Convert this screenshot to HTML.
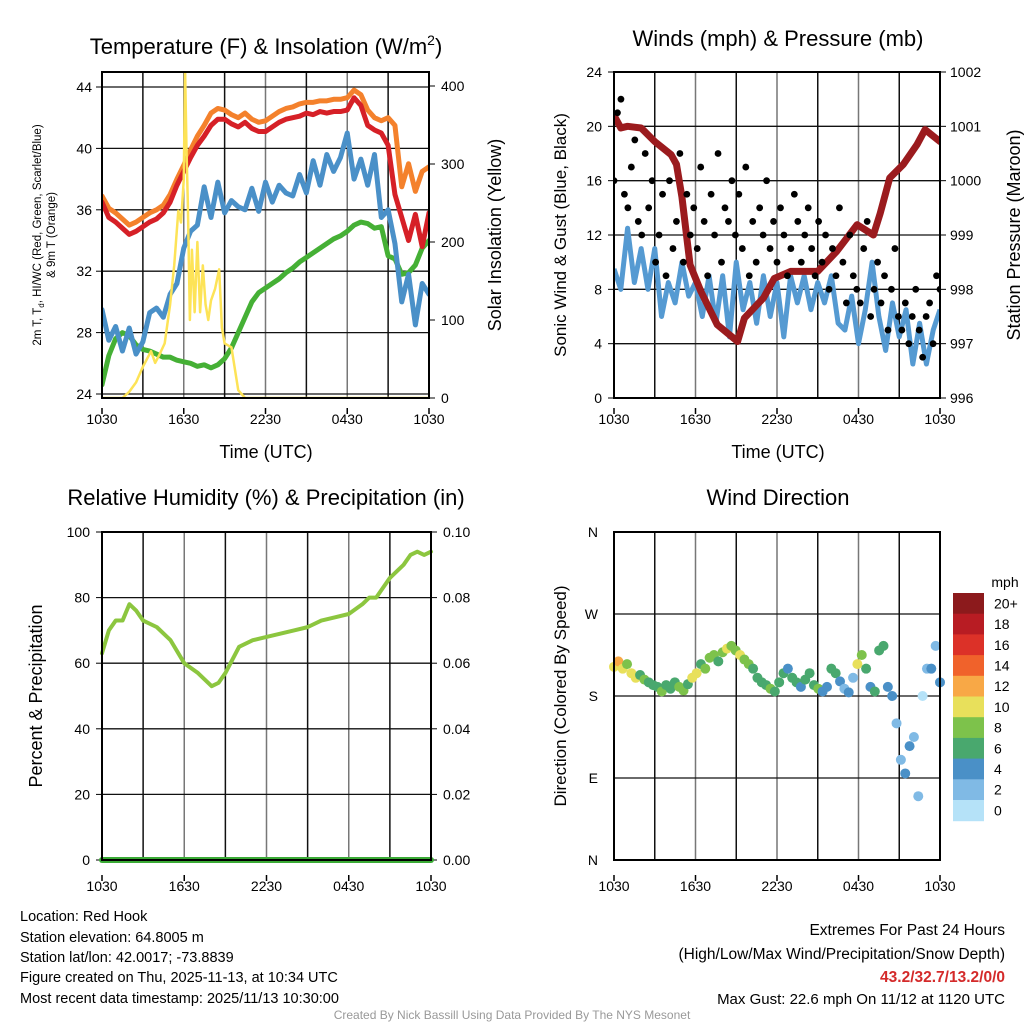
<!DOCTYPE html>
<html><head><meta charset="utf-8"><style>
body{margin:0;background:#fff}
svg{display:block;font-family:"Liberation Sans",sans-serif}
</style></head><body>
<svg id="s" width="1024" height="1024" viewBox="0 0 1024 1024">
<rect width="1024" height="1024" fill="#fff"/>
<g id="g"></g>
<text x="266" y="54" text-anchor="middle" font-size="22">Temperature (F) &amp; Insolation (W/m<tspan dy="-9" font-size="14">2</tspan><tspan dy="9">)</tspan></text>
<text x="778" y="46" text-anchor="middle" font-size="22">Winds (mph) &amp; Pressure (mb)</text>
<text x="266" y="505" text-anchor="middle" font-size="22">Relative Humidity (%) &amp; Precipitation (in)</text>
<text x="778" y="505" text-anchor="middle" font-size="22">Wind Direction</text>
<text x="266" y="458" text-anchor="middle" font-size="18">Time (UTC)</text>
<text x="778" y="458" text-anchor="middle" font-size="18">Time (UTC)</text>
<text transform="translate(41,235) rotate(-90)" text-anchor="middle" font-size="11.5">2m T, T<tspan dy="3" font-size="8">d</tspan><tspan dy="-3">, HI/WC (Red, Green, Scarlet/Blue)</tspan></text>
<text transform="translate(55,235) rotate(-90)" text-anchor="middle" font-size="11.5">&amp; 9m T (Orange)</text>
<text transform="translate(501,235) rotate(-90)" text-anchor="middle" font-size="18">Solar Insolation (Yellow)</text>
<text transform="translate(566,235) rotate(-90)" text-anchor="middle" font-size="17">Sonic Wind &amp; Gust (Blue, Black)</text>
<text transform="translate(1020,235) rotate(-90)" text-anchor="middle" font-size="18">Station Pressure (Maroon)</text>
<text transform="translate(42,696) rotate(-90)" text-anchor="middle" font-size="18">Percent &amp; Precipitation</text>
<text transform="translate(566,696) rotate(-90)" text-anchor="middle" font-size="17">Direction (Colored By Speed)</text>
<text x="1005" y="587" text-anchor="middle" font-size="14">mph</text>
<g font-size="14.5">
<text x="20" y="921">Location: Red Hook</text>
<text x="20" y="942">Station elevation: 64.8005 m</text>
<text x="20" y="962">Station lat/lon: 42.0017; -73.8839</text>
<text x="20" y="982">Figure created on Thu, 2025-11-13, at 10:34 UTC</text>
<text x="20" y="1003">Most recent data timestamp: 2025/11/13 10:30:00</text>
</g>
<g font-size="15.5" text-anchor="end">
<text x="1005" y="935">Extremes For Past 24 Hours</text>
<text x="1005" y="959">(High/Low/Max Wind/Precipitation/Snow Depth)</text>
<text x="1005" y="982" fill="#d42a2a" font-weight="bold">43.2/32.7/13.2/0/0</text>
<text x="1005" y="1004" font-size="15">Max Gust: 22.6 mph On 11/12 at 1120 UTC</text>
</g>
<text x="512" y="1019" text-anchor="middle" font-size="12" fill="#999">Created By Nick Bassill Using Data Provided By The NYS Mesonet</text>
</svg>
<script>
// ---- data ----
const xTickLabels = ["1030","1630","2230","0430","1030"];
const t2m = [36.5,35.5,35.2,34.8,34.4,34.6,34.9,35.2,35.4,35.8,36.5,37.6,38.5,39.4,40.2,40.8,41.5,41.9,41.9,41.6,41.4,41.7,41.3,41.1,41.1,41.4,41.7,41.9,42.0,42.1,42.3,42.2,42.4,42.3,42.4,42.4,42.5,43.3,42.8,41.5,41.2,41.0,40.2,37.0,35.5,34.0,35.7,33.6,35.8];
const t9m = [36.9,36.1,35.8,35.4,35.0,35.2,35.5,35.8,36.0,36.3,37.0,38.0,38.9,39.9,40.8,41.5,42.3,42.6,42.5,42.2,42.0,42.3,41.9,41.7,41.8,42.1,42.4,42.6,42.7,42.9,43.0,43.0,43.1,43.1,43.2,43.2,43.3,43.8,43.5,42.5,42.0,41.8,42.0,41.5,37.5,39.0,37.2,38.5,38.8];
const tdew = [29.5,27.5,28.4,26.8,28.3,26.6,27.4,29.3,29.6,29.0,30.5,31.2,33.5,34.6,35.0,37.5,35.5,37.8,35.8,36.6,36.2,36.0,37.4,35.9,37.8,36.5,37.6,37.1,36.9,38.3,37.1,39.2,37.6,39.6,38.5,39.4,41.0,38.0,39.3,37.6,39.6,35.5,36.0,33.8,30.0,31.8,28.5,31.2,30.5];
const thiwc = [24.6,26.5,27.6,28.0,27.8,27.2,26.9,26.8,26.6,26.4,26.4,26.2,26.1,26.0,25.8,25.9,25.7,25.9,26.3,27.0,28.0,29.0,30.0,30.6,30.9,31.2,31.5,31.9,32.2,32.6,32.9,33.2,33.5,33.8,34.1,34.3,34.6,35.0,35.2,35.1,34.8,34.9,33.0,32.8,31.8,31.9,32.4,33.5,34.0];
const solarHours = [0,1.5,2,2.5,3,3.3,3.6,3.9,4.2,4.6,5,5.3,5.6,5.8,6.0,6.1,6.2,6.3,6.45,6.6,6.8,7.0,7.2,7.4,7.6,7.8,8.0,8.3,8.6,8.8,9.0,9.5,10,10.5,11,24];
const solarVals = [0,0,8,20,40,50,60,45,55,70,120,170,240,225,280,420,320,250,100,190,110,200,110,170,120,100,125,140,165,90,70,65,10,0,0,0];
const windSpeed = [9.5,8.0,12.5,8.5,11.0,8.0,11.0,6.0,8.5,7.0,10.0,7.5,8.5,6.0,9.0,5.5,9.0,4.5,10.0,6.5,8.5,5.5,9.0,6.0,8.5,4.5,9.0,7.0,9.0,6.5,8.5,7.0,9.0,5.5,5.0,7.5,4.0,6.5,10.0,6.0,3.5,7.0,4.5,6.5,2.5,5.5,2.5,5.0,6.5];
const gusts = [16,21,22,15,14,17,19,13,12,18,14,16,10, 12,15,9,16,11,13,18,10,15,12,14, 11,17,13,9,15,12,18,10,14,13,16, 12,15,11,17,9,13,10,14,12,16,11,13, 10,14,12,9,11,15,13,10,12,14,11,9, 13,10,12,8,11,9,14,10,7,12,9,8, 7,11,13,6,8,10,7,9,5,8,11,6, 5,7,4,6,8,5,3,6,7,4,9,8];
const pressHours = [0,0.5,1,2,3,4.2,4.6,5,5.6,6.4,7.6,9.1,9.6,11,11.8,13,15,16.4,17.9,19.1,19.6,20.3,21.3,22.3,22.9,24];
const pressVals = [1001.2,1000.97,1001.0,1000.97,1000.72,1000.48,1000.3,999.7,998.45,997.96,997.35,997.04,997.47,997.84,998.2,998.33,998.33,998.7,999.19,999.0,999.4,1000.05,1000.3,1000.66,1000.94,1000.72];
const rhHours = [0,0.5,1,1.5,2,2.5,3,4,5,6,7,8,8.5,9,10,11,12,13,14,15,16,17,18,19,19.5,20,20.5,21,22,22.5,23,23.5,24];
const rhVals = [63,70,73,73,78,76,73,71,67,60,57,53,54,57,65,67,68,69,70,71,73,74,75,78,80,80,83,86,90,93,94,93,94];
const precipVals = [0,0];
const wdDir = [212,218,210,215,205,200,203,198,195,192, 190,185,192,188,195,190,186,193,200, 205,215,210,222,225,218,228,232,235, 230,225,220,215,210,200,195,192,188, 185,195,205,210,200,195,190,198,205, 192,188,185,190,210,205,196,188,184, 200,215,225,210,190,185,230,235,190, 180,150,110,95,125,135,70,180,210,210,235,195];
const wdSpeed = [11,13,10,9,11,10,7,9,6,7, 7,8,6,7,7,8,9,7,10, 10,7,8,8,9,7,9,10,8, 9,10,9,8,7,6,7,6,8, 6,7,6,5,6,7,5,6,6, 7,9,4,5,6,7,4,3,4, 3,10,8,7,4,6,6,7,4, 4,2,2,4,4,2,3,1,2,4,2,4];
const cbLabels = ["20+","18","16","14","12","10","8","6","4","2","0"];
const cbColors = ["#8c1a1c","#b81c23","#dc3128","#f0622b","#f8a846","#e8e05b","#7dc24b","#49a86e","#4a90c7","#80bae5","#b5e2f8"];

// ---- drawing ----
const NS="http://www.w3.org/2000/svg";
const G=document.getElementById('g');
function mk(tag,attrs,parent){const e=document.createElementNS(NS,tag);for(const k in attrs)e.setAttribute(k,attrs[k]);(parent||G).appendChild(e);return e;}
function lin(d0,d1,r0,r1){return v=>r0+(v-d0)*(r1-r0)/(d1-d0);}
function halfHours(n){return Array.from({length:n},(_,i)=>i*24/(n-1));}

function frame(x0,x1,y0,y1,name){
  const X=lin(0,24,x0,x1);
  for(let h=3;h<24;h+=3){const l=mk('line',{x1:X(h),x2:X(h),y1:y0,y2:y1,stroke:(h%6==0)?'#777':'#111','stroke-width':1.5});
    
    }
  return X;
}
function hgrid(x0,x1,y,name){const l=mk('line',{x1:x0,x2:x1,y1:y,y2:y,stroke:'#111','stroke-width':1.3});
  
  }
function border(x0,x1,y0,y1,name){const r=mk('rect',{x:x0,y:y0,width:x1-x0,height:y1-y0,fill:'none',stroke:'#000','stroke-width':2});
  
  }
function xticks(X,y,name){for(let i=0;i<5;i++){const t=mk('text',{x:X(i*6),y:y,'text-anchor':'middle','font-size':14});t.textContent=xTickLabels[i];
  
  
  mk('line',{x1:X(i*6),x2:X(i*6),y1:y-16,y2:y-10,stroke:'#000','stroke-width':1.5});}}
function ylabel(x,y,txt,anchor,name){const t=mk('text',{x:x,y:y+5,'text-anchor':anchor,'font-size':14});t.textContent=txt;
  
  }
function line(xs,ys,X,Y,color,w,name){const p=mk('polyline',{points:xs.map((x,i)=>X(x)+','+Y(ys[i])).join(' '),fill:'none',stroke:color,'stroke-width':w,'stroke-linejoin':'round','stroke-linecap':'round'});
  
  }
function clip(id,x0,x1,y0,y1){const c=mk('clipPath',{id:id});mk('rect',{x:x0,y:y0,width:x1-x0,height:y1-y0},c);}

// Panel 1
{const x0=102,x1=429,y0=72,y1=398;
 const X=frame(x0,x1,y0,y1,'temp');const Y=lin(24,44,394,87);const Ys=lin(0,400,398,86);
 for(let v=24;v<=44;v+=4){hgrid(x0,x1,Y(v),'temp');ylabel(x0-10,Y(v),String(v),'end','temp-ytick-label');mk('line',{x1:x0-6,x2:x0,y1:Y(v),y2:Y(v),stroke:'#000'});}
 for(let v=0;v<=400;v+=100){ylabel(x1+12,Ys(v),String(v),'start','solar-ytick-label');mk('line',{x1:x1,x2:x1+6,y1:Ys(v),y2:Ys(v),stroke:'#000'});}
 clip('c1',x0,x1,y0,y1);
 const g=mk('g',{'clip-path':'url(#c1)'});
 const H=halfHours(49);
 const draw=(ys,Yf,c,w,n,xs)=>{const p=mk('polyline',{points:(xs||H).map((x,i)=>X(x)+','+Yf(ys[i])).join(' '),fill:'none',stroke:c,'stroke-width':w,'stroke-linejoin':'round','stroke-linecap':'round'},g);
   
   };
 draw(thiwc,Y,'#45b035',5,'hiwc-line');
 draw(tdew,Y,'#4a90c8',5,'dewpoint-line');
 draw(t9m,Y,'#f4812c',5,'temp-9m-line');
 draw(t2m,Y,'#d62027',5,'temp-2m-line');
 draw(solarVals,Ys,'#fde357',2.5,'solar-line',solarHours);
 border(x0,x1,y0,y1,'temp');xticks(X,424,'temp');}

// Panel 2
{const x0=614,x1=940,y0=72,y1=398;
 const X=frame(x0,x1,y0,y1,'winds');const Y=lin(0,24,398,72);const Yp=lin(996,1002,398,72);
 for(let v=0;v<=24;v+=4){hgrid(x0,x1,Y(v),'winds');ylabel(x0-12,Y(v),String(v),'end','wind-ytick-label');mk('line',{x1:x0-6,x2:x0,y1:Y(v),y2:Y(v),stroke:'#000'});}
 for(let v=996;v<=1002;v++){ylabel(x1+10,Yp(v),String(v),'start','pressure-ytick-label');mk('line',{x1:x1,x2:x1+6,y1:Yp(v),y2:Yp(v),stroke:'#000'});}
 clip('c2',x0,x1,y0,y1);
 const g=mk('g',{'clip-path':'url(#c2)'});
 const p=mk('polyline',{points:halfHours(windSpeed.length).map((x,i)=>X(x)+','+Y(windSpeed[i])).join(' '),fill:'none',stroke:'#559ad2','stroke-width':5,'stroke-linejoin':'round'},g);
 
 
 const pp=mk('polyline',{points:pressHours.map((x,i)=>X(x)+','+Yp(pressVals[i])).join(' '),fill:'none',stroke:'#9b1b1e','stroke-width':7,'stroke-linejoin':'round','stroke-linecap':'round'},g);
 
 
 const gt=halfHours(gusts.length);
 gusts.forEach((v,i)=>{const c=mk('circle',{cx:X(gt[i]),cy:Y(v),r:3.4,fill:'#000'},g);
   
   });
 border(x0,x1,y0,y1,'winds');xticks(X,424,'winds');}

// Panel 3
{const x0=102,x1=431,y0=532,y1=860;
 const X=frame(x0,x1,y0,y1,'rh');const Y=lin(0,100,860,532);
 for(let v=0;v<=100;v+=20){hgrid(x0,x1,Y(v),'rh');ylabel(x0-12,Y(v),String(v),'end','rh-ytick-label');mk('line',{x1:x0-6,x2:x0,y1:Y(v),y2:Y(v),stroke:'#000'});
   ylabel(x1+12,Y(v),(v/1000).toFixed(2),'start','precip-ytick-label');mk('line',{x1:x1,x2:x1+6,y1:Y(v),y2:Y(v),stroke:'#000'});}
 line(rhHours,rhVals,X,Y,'#8cc63f',4,'rh-line');
 const Yq=lin(0,0.1,860,532);
 line([0,24],precipVals,X,Yq,'#3aaa35',6,'precip-line');
 border(x0,x1,y0,y1,'rh');xticks(X,891,'rh');}

// Panel 4
{const x0=614,x1=940,y0=532,y1=860;
 const X=frame(x0,x1,y0,y1,'wdir');const Y=lin(0,360,860,532);
 const dl=['N','E','S','W','N'];
 for(let i=0;i<5;i++){hgrid(x0,x1,Y(i*90),'wdir');ylabel(x0-16,Y(i*90),dl[i],'end','wdir-ytick-label');}
 const wt=halfHours(wdDir.length);
 wdDir.forEach((d,i)=>{const s=wdSpeed[i];const bin=Math.min(10,Math.floor(s/2));
   const c=mk('circle',{cx:X(wt[i]),cy:Y(d),r:5,fill:cbColors[10-bin]});
   
   });
 border(x0,x1,y0,y1,'wdir');xticks(X,891,'wdir');
 const cy0=593,bh=20.7;
 cbColors.forEach((c,i)=>{const r=mk('rect',{x:953,y:cy0+i*bh,width:31,height:bh+0.5,fill:c});
   
   
   ylabel(994,cy0+i*bh+bh/2,cbLabels[i],'start','colorbar-label');});}
</script>
</body></html>
